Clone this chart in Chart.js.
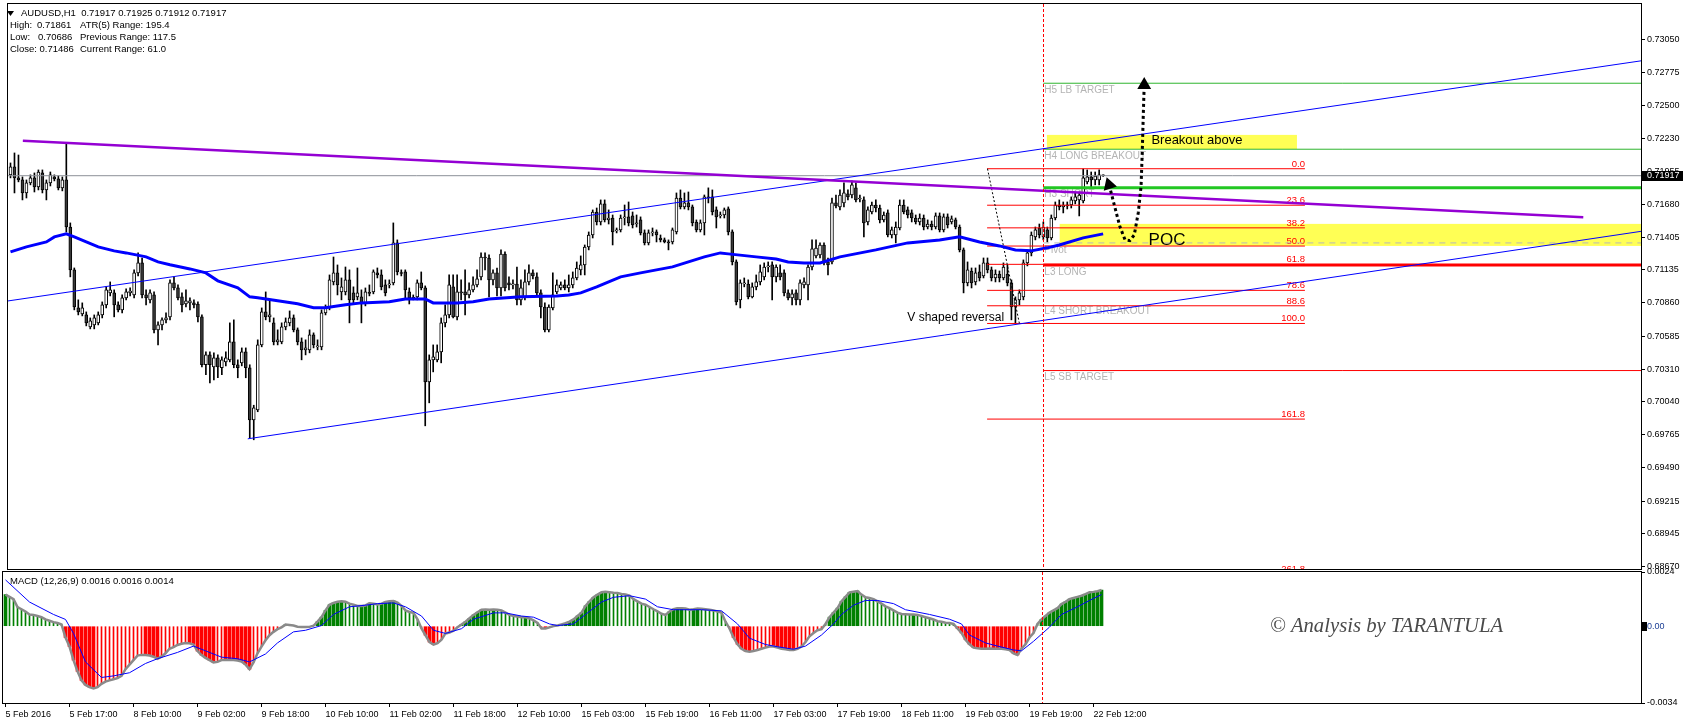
<!DOCTYPE html>
<html>
<head>
<meta charset="utf-8">
<script src="https://cdn.jsdelivr.net/npm/chart.js@4.4.1/dist/chart.umd.min.js"></script>
<style>
  html, body { margin: 0; padding: 0; background: #fff; }
  #wrap { position: relative; width: 1683px; height: 725px; overflow: hidden; background: #fff; }
  #priceCanvas { position: absolute; left: 0; top: -10px; }
  #macdCanvas { position: absolute; left: 0; top: 560px; }
</style>
</head>
<body>
<div id="wrap">
  <canvas id="priceCanvas" width="1683" height="590"></canvas>
  <canvas id="macdCanvas" width="1683" height="165"></canvas>
</div>
<script>
// AUDUSD H1 with fib levels, pivot levels and a MACD window

// time axis (one tick every 16 bars)
const timeTickBars = [0, 16, 32, 48, 64, 80, 96, 112, 128, 144, 160, 176, 192, 208, 224, 240, 256, 272];
const timeTickLabels = ['5 Feb 2016', '5 Feb 17:00', '8 Feb 10:00', '9 Feb 02:00', '9 Feb 18:00', '10 Feb 10:00',
  '11 Feb 02:00', '11 Feb 18:00', '12 Feb 10:00', '15 Feb 03:00', '15 Feb 19:00', '16 Feb 11:00',
  '17 Feb 03:00', '17 Feb 19:00', '18 Feb 11:00', '19 Feb 03:00', '19 Feb 19:00', '22 Feb 12:00'];

const priceTicks = [0.73050, 0.72775, 0.72500, 0.72230, 0.71955, 0.71680, 0.71405, 0.71135, 0.70860,
  0.70585, 0.70310, 0.70040, 0.69765, 0.69490, 0.69215, 0.68945, 0.68670];
const macdTicks = [-0.0034, 0, 0.0024];
const macdTickLabels = ['-0.0034', '0.00', '0.0024'];

// candles
const open = [
0.71924,0.71990,0.71899,0.71882,0.71774,0.71857,0.71899,0.71824,0.71940,0.71799,
0.71857,0.71907,0.71891,0.71816,0.71882,0.71491,0.71135,0.70819,0.70769,0.70761,
0.70662,0.70678,0.70695,0.70761,0.70844,0.70944,0.70944,0.70844,0.70803,0.70902,
0.70944,0.70927,0.71110,0.71193,0.70927,0.70886,0.70927,0.70637,0.70678,0.70720,
0.70745,0.71027,0.70985,0.70911,0.70852,0.70861,0.70861,0.70852,0.70745,0.70347,
0.70429,0.70330,0.70405,0.70322,0.70371,0.70388,0.70537,0.70347,0.70363,0.70454,
0.70322,0.69890,0.69973,0.70512,0.70786,0.70745,0.70695,0.70537,0.70537,0.70662,
0.70695,0.70736,0.70637,0.70537,0.70471,0.70471,0.70595,0.70496,0.70496,0.70778,
0.70819,0.71035,0.71110,0.70952,0.70952,0.71052,0.70944,0.70911,0.70911,0.70861,
0.70944,0.70952,0.71110,0.71093,0.71010,0.71010,0.71027,0.71359,0.71110,0.71118,
0.70952,0.70902,0.70911,0.71027,0.70985,0.70205,0.70388,0.70388,0.70454,0.70695,
0.70761,0.70994,0.70745,0.70952,0.70952,0.70927,0.70969,0.71010,0.71077,0.71242,
0.71234,0.71052,0.71110,0.70985,0.71267,0.71027,0.71010,0.71018,0.70886,0.70911,
0.71035,0.71110,0.71077,0.70944,0.70827,0.70637,0.70819,0.70952,0.70985,0.71010,
0.70985,0.71010,0.71068,0.71135,0.71176,0.71325,0.71425,0.71616,0.71533,0.71683,
0.71550,0.71566,0.71458,0.71467,0.71566,0.71575,0.71583,0.71516,0.71550,0.71442,
0.71359,0.71442,0.71450,0.71400,0.71384,0.71367,0.71367,0.71450,0.71732,0.71658,
0.71691,0.71658,0.71533,0.71467,0.71525,0.71741,0.71741,0.71633,0.71583,0.71591,
0.71641,0.71450,0.71201,0.70886,0.71018,0.71018,0.70911,0.70994,0.71035,0.71077,
0.71159,0.71176,0.71077,0.71110,0.71110,0.70944,0.70902,0.70944,0.70886,0.71010,
0.71010,0.71159,0.71251,0.71259,0.71342,0.71201,0.71201,0.71691,0.71658,0.71691,
0.71766,0.71757,0.71816,0.71724,0.71716,0.71533,0.71616,0.71674,0.71649,0.71550,
0.71608,0.71425,0.71425,0.71483,0.71674,0.71633,0.71608,0.71566,0.71533,0.71566,
0.71491,0.71516,0.71491,0.71583,0.71467,0.71575,0.71533,0.71550,0.71491,0.71301,
0.71027,0.71126,0.71035,0.71118,0.71085,0.71193,0.71135,0.71068,0.71101,0.71068,
0.71101,0.71027,0.70827,0.70886,0.70911,0.71193,0.71276,0.71409,0.71483,0.71409,
0.71467,0.71400,0.71566,0.71674,0.71658,0.71674,0.71674,0.71707,0.71716,0.71707,
0.71866,0.71907,0.71882,0.71882,0.71917];
const high = [
0.72023,0.72106,0.72089,0.71907,0.71882,0.71924,0.71940,0.71965,0.71965,0.71882,
0.71948,0.71924,0.71915,0.71907,0.72189,0.71525,0.71151,0.70886,0.70861,0.70786,
0.70736,0.70761,0.70786,0.70869,0.70994,0.71035,0.70969,0.70869,0.70927,0.70977,
0.70985,0.71135,0.71276,0.71234,0.70969,0.70969,0.70952,0.70703,0.70736,0.70778,
0.71052,0.71077,0.71010,0.70944,0.70969,0.70902,0.70886,0.70869,0.70761,0.70454,
0.70454,0.70446,0.70429,0.70413,0.70454,0.70695,0.70720,0.70388,0.70487,0.70487,
0.70347,0.70011,0.70554,0.70819,0.70952,0.70886,0.70736,0.70637,0.70695,0.70736,
0.70794,0.70761,0.70653,0.70570,0.70554,0.70637,0.70612,0.70554,0.70803,0.70844,
0.71093,0.71242,0.71176,0.71068,0.71159,0.71135,0.70994,0.71151,0.70969,0.70985,
0.71010,0.71135,0.71151,0.71135,0.71052,0.71052,0.71525,0.71384,0.71135,0.71135,
0.70985,0.70927,0.71052,0.71118,0.71002,0.70429,0.70512,0.70512,0.70736,0.70844,
0.71093,0.71093,0.71093,0.71052,0.71135,0.71027,0.71077,0.71135,0.71276,0.71276,
0.71259,0.71135,0.71151,0.71301,0.71284,0.71077,0.71052,0.71159,0.71052,0.71135,
0.71176,0.71135,0.71110,0.70969,0.70861,0.70844,0.71110,0.71052,0.71035,0.71052,
0.71093,0.71118,0.71201,0.71251,0.71342,0.71450,0.71633,0.71649,0.71716,0.71716,
0.71633,0.71591,0.71483,0.71591,0.71674,0.71699,0.71616,0.71591,0.71575,0.71467,
0.71467,0.71483,0.71467,0.71425,0.71400,0.71384,0.71483,0.71774,0.71799,0.71774,
0.71782,0.71674,0.71550,0.71550,0.71757,0.71816,0.71799,0.71658,0.71616,0.71649,
0.71658,0.71467,0.71218,0.71052,0.71068,0.71052,0.71027,0.71093,0.71176,0.71193,
0.71201,0.71201,0.71176,0.71176,0.71135,0.70969,0.70969,0.70969,0.71052,0.71068,
0.71176,0.71384,0.71384,0.71359,0.71359,0.71234,0.71732,0.71757,0.71799,0.71857,
0.71799,0.71874,0.71857,0.71757,0.71741,0.71658,0.71699,0.71716,0.71674,0.71616,
0.71633,0.71491,0.71533,0.71716,0.71716,0.71658,0.71633,0.71591,0.71600,0.71591,
0.71550,0.71541,0.71608,0.71608,0.71600,0.71600,0.71583,0.71566,0.71508,0.71317,
0.71201,0.71151,0.71151,0.71176,0.71234,0.71234,0.71159,0.71135,0.71126,0.71193,
0.71176,0.71052,0.70911,0.70969,0.71218,0.71301,0.71450,0.71491,0.71516,0.71533,
0.71491,0.71591,0.71699,0.71716,0.71699,0.71699,0.71741,0.71774,0.71782,0.71973,
0.71965,0.71948,0.71948,0.71965,0.71925];
const low = [
0.71899,0.71774,0.71866,0.71716,0.71732,0.71841,0.71782,0.71799,0.71774,0.71716,
0.71832,0.71874,0.71799,0.71791,0.71450,0.71077,0.70803,0.70761,0.70753,0.70670,
0.70645,0.70645,0.70678,0.70736,0.70819,0.70919,0.70745,0.70786,0.70778,0.70886,
0.70919,0.70902,0.71085,0.70902,0.70844,0.70861,0.70612,0.70512,0.70637,0.70695,
0.70720,0.70969,0.70886,0.70786,0.70827,0.70803,0.70819,0.70703,0.70330,0.70264,
0.70197,0.70222,0.70239,0.70264,0.70338,0.70371,0.70322,0.70239,0.70338,0.70239,
0.69741,0.69724,0.69957,0.70496,0.70720,0.70703,0.70512,0.70512,0.70521,0.70637,
0.70670,0.70620,0.70512,0.70388,0.70429,0.70446,0.70487,0.70471,0.70471,0.70761,
0.70803,0.71010,0.70927,0.70886,0.70927,0.70695,0.70861,0.70886,0.70695,0.70836,
0.70919,0.70936,0.71068,0.70969,0.70919,0.70985,0.71010,0.71093,0.71085,0.70902,
0.70852,0.70886,0.70886,0.70969,0.69840,0.70031,0.70288,0.70371,0.70363,0.70662,
0.70736,0.70736,0.70720,0.70886,0.70761,0.70902,0.70952,0.70994,0.71052,0.71135,
0.70911,0.71010,0.70919,0.70919,0.70960,0.70969,0.70977,0.70844,0.70844,0.70886,
0.71010,0.71060,0.70919,0.70736,0.70620,0.70620,0.70803,0.70936,0.70969,0.70969,
0.70952,0.70985,0.71052,0.71093,0.71093,0.71301,0.71400,0.71508,0.71508,0.71533,
0.71516,0.71342,0.71442,0.71450,0.71508,0.71500,0.71483,0.71491,0.71425,0.71342,
0.71342,0.71417,0.71367,0.71367,0.71359,0.71301,0.71350,0.71433,0.71641,0.71641,
0.71633,0.71500,0.71450,0.71450,0.71425,0.71691,0.71591,0.71483,0.71566,0.71566,
0.71425,0.71176,0.70844,0.70819,0.70994,0.70894,0.70902,0.70969,0.71010,0.71052,
0.71118,0.70886,0.71035,0.71052,0.70919,0.70886,0.70844,0.70844,0.70844,0.70985,
0.70886,0.71135,0.71234,0.71234,0.71176,0.71093,0.71184,0.71649,0.71633,0.71658,
0.71716,0.71732,0.71699,0.71699,0.71409,0.71508,0.71600,0.71616,0.71525,0.71533,
0.71409,0.71400,0.71359,0.71467,0.71600,0.71566,0.71533,0.71516,0.71508,0.71467,
0.71475,0.71467,0.71475,0.71450,0.71450,0.71483,0.71516,0.71475,0.71284,0.70944,
0.71002,0.70985,0.71010,0.71043,0.71068,0.71110,0.71043,0.71035,0.71035,0.71052,
0.71002,0.70720,0.70695,0.70844,0.70886,0.71168,0.71251,0.71384,0.71400,0.71384,
0.71367,0.71384,0.71550,0.71633,0.71608,0.71641,0.71649,0.71683,0.71583,0.71691,
0.71849,0.71824,0.71841,0.71841,0.71912];
const close = [
0.71990,0.71899,0.71882,0.71774,0.71857,0.71899,0.71824,0.71948,0.71799,0.71857,
0.71924,0.71891,0.71816,0.71882,0.71491,0.71135,0.70827,0.70786,0.70819,0.70695,
0.70711,0.70736,0.70761,0.70844,0.70969,0.70969,0.70844,0.70803,0.70902,0.70952,
0.70960,0.71110,0.71193,0.70927,0.70902,0.70944,0.70637,0.70678,0.70720,0.70736,
0.71027,0.70985,0.70902,0.70844,0.70877,0.70877,0.70844,0.70745,0.70347,0.70429,
0.70347,0.70405,0.70330,0.70388,0.70405,0.70537,0.70347,0.70322,0.70454,0.70322,
0.69890,0.69990,0.70512,0.70786,0.70745,0.70761,0.70537,0.70554,0.70662,0.70703,
0.70736,0.70637,0.70537,0.70471,0.70487,0.70595,0.70512,0.70504,0.70778,0.70819,
0.71052,0.71110,0.71010,0.70994,0.71052,0.70886,0.70886,0.70944,0.70861,0.70952,
0.70940,0.71118,0.71093,0.70994,0.70944,0.71018,0.71359,0.71118,0.71105,0.70969,
0.70902,0.70898,0.71027,0.70985,0.70205,0.70388,0.70413,0.70454,0.70695,0.70761,
0.71010,0.70745,0.70952,0.70944,0.70927,0.70969,0.71010,0.71060,0.71242,0.71234,
0.71052,0.71110,0.70985,0.71267,0.70985,0.71010,0.71018,0.70886,0.70985,0.71035,
0.71110,0.71085,0.70944,0.70827,0.70637,0.70827,0.70927,0.71010,0.71010,0.70985,
0.71010,0.71068,0.71151,0.71176,0.71325,0.71425,0.71616,0.71533,0.71683,0.71550,
0.71566,0.71450,0.71467,0.71566,0.71575,0.71525,0.71508,0.71525,0.71442,0.71359,
0.71442,0.71450,0.71425,0.71384,0.71367,0.71359,0.71467,0.71732,0.71658,0.71691,
0.71658,0.71525,0.71467,0.71525,0.71741,0.71732,0.71616,0.71575,0.71591,0.71633,
0.71450,0.71201,0.70869,0.71027,0.71027,0.70911,0.70994,0.71035,0.71118,0.71159,
0.71168,0.71077,0.71159,0.71077,0.70944,0.70902,0.70936,0.70886,0.71027,0.71035,
0.71159,0.71309,0.71317,0.71342,0.71193,0.71176,0.71691,0.71666,0.71757,0.71774,
0.71741,0.71841,0.71716,0.71732,0.71525,0.71633,0.71674,0.71649,0.71550,0.71591,
0.71425,0.71467,0.71491,0.71674,0.71616,0.71591,0.71566,0.71533,0.71566,0.71491,
0.71516,0.71491,0.71583,0.71467,0.71575,0.71508,0.71558,0.71491,0.71301,0.71027,
0.71135,0.71027,0.71110,0.71068,0.71193,0.71135,0.71068,0.71101,0.71068,0.71159,
0.71027,0.70827,0.70886,0.70944,0.71193,0.71276,0.71425,0.71467,0.71425,0.71491,
0.71400,0.71566,0.71674,0.71658,0.71674,0.71666,0.71716,0.71741,0.71757,0.71899,
0.71907,0.71882,0.71915,0.71924,0.71917];

// moving average, read at sample bars
const maBars = [0, 4, 9, 11, 14, 16, 19, 22, 26, 29, 34, 37, 40, 45, 49, 52, 57, 60, 62, 67, 72, 76, 79, 84,
  88, 95, 99, 104, 106, 112, 116, 120, 128, 137, 140, 143, 147, 150, 153, 158, 162, 166, 170, 174, 178, 180,
  187, 192, 195, 199, 203, 208, 217, 225, 233, 238, 243, 248, 252, 256, 260, 263, 269, 274];
const maValues = [0.71284, 0.71326, 0.71367, 0.71409, 0.71434, 0.71409, 0.71367, 0.71326, 0.71293, 0.71276,
  0.71243, 0.71201, 0.71177, 0.71143, 0.71110, 0.71044, 0.70986, 0.70911, 0.70903, 0.70878, 0.70853, 0.70820,
  0.70820, 0.70845, 0.70861, 0.70870, 0.70894, 0.70894, 0.70861, 0.70861, 0.70870, 0.70894, 0.70911, 0.70919,
  0.70927, 0.70944, 0.70994, 0.71035, 0.71077, 0.71110, 0.71135, 0.71160, 0.71201, 0.71243, 0.71276, 0.71268,
  0.71243, 0.71226, 0.71201, 0.71193, 0.71193, 0.71243, 0.71301, 0.71359, 0.71384, 0.71409, 0.71367, 0.71334,
  0.71301, 0.71293, 0.71318, 0.71342, 0.71401, 0.71434];

// MACD (12,26,9) main value per bar
const macdMain = [
0.0014,0.0013,0.0012,0.00085,0.00075,0.00065,0.00052,0.0005,0.00045,0.0004,
0.0003,0.00024,0.00018,0.00014,0.00008,-0.0005,-0.0009,-0.0015,-0.002,-0.0024,
-0.0026,-0.0027,-0.00276,-0.0027,-0.00255,-0.00245,-0.0024,-0.00235,-0.0023,-0.0022,
-0.0019,-0.0017,-0.0015,-0.0013,-0.00127,-0.00128,-0.0013,-0.00135,-0.00144,-0.00135,
-0.0012,-0.001,-0.00093,-0.00083,-0.00078,-0.00074,-0.00076,-0.00081,-0.0011,-0.00128,
-0.0014,-0.0015,-0.0016,-0.00158,-0.0015,-0.0015,-0.0015,-0.0015,-0.00152,-0.00156,
-0.0017,-0.0019,-0.0016,-0.0012,-0.0009,-0.00062,-0.0004,-0.00025,-0.00013,-0.00005,
0.00007,0.00005,0.00003,-0.00002,-0.00004,-0.00004,-0.00003,0.00002,0.0002,0.0004,
0.0007,0.00095,0.00103,0.00108,0.0011,0.00108,0.001,0.00095,0.0009,0.0009,
0.00092,0.00102,0.001,0.00096,0.001,0.00107,0.0011,0.00112,0.00105,0.0009,
0.0007,0.00063,0.00059,0.0003,-0.0001,-0.0004,-0.0007,-0.00081,-0.00075,-0.0006,
-0.00032,-0.00028,-0.0002,-0.00005,0.00008,0.0002,0.00035,0.0005,0.00062,0.00073,
0.00074,0.00073,0.00074,0.00073,0.0007,0.0006,0.0005,0.00045,0.00043,0.0004,
0.0004,0.00035,0.00026,0.00015,-0.0001,-0.0001,-0.00005,0.00001,0.00003,0.00008,
0.00013,0.0002,0.0003,0.00045,0.0006,0.0009,0.0011,0.00128,0.0014,0.0015,
0.00152,0.0015,0.00148,0.00147,0.00143,0.0014,0.00135,0.0012,0.0011,0.001,
0.00095,0.00085,0.00075,0.00066,0.00055,0.0005,0.00065,0.00075,0.0008,0.0008,
0.00078,0.00073,0.00075,0.00078,0.00077,0.00075,0.00073,0.0007,0.00065,0.0006,
0.0002,-0.0001,-0.0005,-0.0008,-0.001,-0.0011,-0.00113,-0.0011,-0.00105,-0.001,
-0.00095,-0.0009,-0.0009,-0.00095,-0.001,-0.00102,-0.00105,-0.00105,-0.001,-0.0009,
-0.0007,-0.00045,-0.0003,-0.00018,-0.00013,0.0001,0.0004,0.0006,0.0008,0.0011,
0.0013,0.0015,0.00153,0.00156,0.0014,0.00128,0.00125,0.0012,0.0011,0.001,
0.00088,0.0008,0.0007,0.0006,0.00054,0.00053,0.00052,0.00052,0.0005,0.00045,
0.0004,0.00035,0.0003,0.00022,0.0002,0.00015,0.00014,0.0001,-0.0001,-0.0003,
-0.0006,-0.0008,-0.00095,-0.00098,-0.001,-0.001,-0.00099,-0.001,-0.001,-0.001,
-0.00102,-0.00105,-0.0012,-0.00127,-0.001,-0.0008,-0.0005,-0.0003,0.0001,0.0003,
0.00045,0.0006,0.0007,0.0008,0.00098,0.00108,0.0012,0.00125,0.0013,0.00135,
0.00142,0.0015,0.00152,0.00155,0.0016];

// MACD signal line, read at sample bars
const signalBars = [0, 6, 12, 15, 17, 20, 24, 27, 31, 35, 38, 43, 47, 50, 54, 58, 61, 65, 68, 72, 75, 79, 82,
  86, 90, 93, 97, 100, 104, 107, 110, 114, 117, 122, 125, 129, 132, 136, 138, 142, 145, 149, 152, 156, 160, 163,
  167, 174, 179, 183, 186, 190, 193, 197, 200, 204, 207, 209, 212, 215, 218, 222, 225, 231, 236, 239, 241, 245,
  248, 252, 254, 257, 261, 264, 268, 271, 274];
const signalValues = [0.00205, 0.00107, 0.00052, 0.0003, -0.00032, -0.00158, -0.00227, -0.0022, -0.00206,
  -0.00165, -0.00144, -0.00116, -0.00088, -0.00109, -0.00137, -0.00144, -0.00158, -0.00123, -0.00074, -0.00025,
  -0.00018, 0.00003, 0.00052, 0.00086, 0.00093, 0.001, 0.00103, 0.00086, 0.00045, -0.00018, -0.00032, -0.00011,
  0.00031, 0.00059, 0.00059, 0.00045, 0.0004, 0.0001, 0.00003, 0.0001, 0.00052, 0.00107, 0.00128, 0.00135,
  0.0012, 0.00086, 0.00073, 0.00073, 0.00068, 0.0001, -0.00053, -0.00081, -0.00091, -0.00102, -0.00088,
  -0.00039, 0.0001, 0.00052, 0.00093, 0.00114, 0.00114, 0.001, 0.00073, 0.00052, 0.00031, 0.0001, -0.00039,
  -0.00074, -0.00088, -0.00105, -0.00109, -0.00067, -0.00004, 0.00052, 0.00086, 0.00114, 0.0014];

// drawn objects (bar index, price)
const lastPrice = 0.71917;
const sessionBar = 259;
const fibLabels = ['0.0', '23.6', '38.2', '50.0', '61.8', '78.6', '88.6', '100.0', '161.8', '261.8'];
const fibPrices = [0.71975, 0.71672, 0.71484, 0.71333, 0.71181, 0.70965, 0.70837, 0.70690, 0.69896, 0.68611];
const fibFrom = 244.9, fibTo = 324.6;
const fibAnchorBars = [245, 253];
const fibAnchorPrices = [0.71975, 0.70690];
const pivotNames = ['H5 LB TARGET', 'H4 LONG BREAKOUT', 'H3 SHORT', 'Pivot', 'L3 LONG', 'L4 SHORT BREAKOUT', 'L5 SB TARGET'];
const pivotPrices = [0.72685, 0.72137, 0.71818, 0.71359, 0.71176, 0.70849, 0.70299];
const purpleBars = [3.1, 394.4];
const purplePrices = [0.72208, 0.71572];
const upperBars = [-0.625, 408.875];
const upperPrices = [0.70877, 0.72871];
const lowerBars = [59.5, 408.875];
const lowerPrices = [0.69732, 0.71455];
const arrowBars = [275.5, 276.9, 278.2, 279.5, 280.7, 281.8, 282.8, 283.5, 283.8, 284.1, 284.3];
const arrowPrices = [0.71841, 0.71660, 0.71494, 0.71384, 0.71378, 0.71425, 0.71608, 0.71826, 0.72106, 0.72463, 0.72671];
const breakoutBox = { x0: 259.9, x1: 322.6, y0: 0.72139, y1: 0.72256 };
const pocBox = { x0: 263.1, x1: 408.875, y0: 0.71334, y1: 0.71517 };
const notes = [
  { text: 'Breakout above', x: 286.1, y: 0.72206, size: 13 },
  { text: 'POC', x: 285.4, y: 0.71384, size: 17 },
  { text: 'V shaped reversal', x: 224.9, y: 0.70737, size: 12 }
];

// axis bounds
const xMin = -0.625, xMax = 408.875;
const priceMin = 0.68651, priceMax = 0.73343;
const macdMin = -0.0034, macdMax = 0.0024;

[open, high, low, close, macdMain].forEach(a => {
  if (a.length !== 275) throw new Error('bar series length ' + a.length);
});

// styles
const SANS = '"Liberation Sans", Arial, sans-serif';
const pivotColors = ['#2fb52f', '#2fb52f', '#22c722', '#b8b8b8', '#ff0000', 'rgba(0,0,0,0)', '#ff0000'];
const pivotWidths = [1, 1, 3, 1, 3, 1, 1];
const axisFont = { family: SANS, size: 9 };

const pts = (xs, ys) => xs.map((x, k) => ({ x: x, y: ys[k] }));
const lineDs = (data, color, width, order, extra) => Object.assign({
  type: 'line', data: data, borderColor: color, borderWidth: width,
  pointRadius: 0, tension: 0, fill: false, order: order
}, extra || {});

const bars = open.map((o, i) => i);
const isBull = i => close[i] >= open[i];

const priceDatasets = [
  lineDs(pts(arrowBars, arrowPrices), '#000', 3, 0, {
    borderDash: [3, 3],
    pointStyle: 'triangle',
    pointRadius: c => (c.dataIndex === 0 || c.dataIndex === arrowBars.length - 1) ? 5 : 0,
    pointRotation: c => c.dataIndex === 0 ? -18 : 0,
    pointBackgroundColor: '#000', pointBorderColor: '#000'
  }),
  lineDs(pts(maBars, maValues), '#0000ff', 3, 1),
  lineDs(pts(purpleBars, purplePrices), '#9400d3', 2.5, 2),
  lineDs(pts(upperBars, upperPrices), '#0000ff', 1, 3),
  lineDs(pts(lowerBars, lowerPrices), '#0000ff', 1, 3),
  lineDs(pts([xMin, xMax], [lastPrice, lastPrice]), '#8c9098', 1, 4),
  lineDs(pts(fibAnchorBars, fibAnchorPrices), '#000', 1, 4, { borderDash: [2, 2] })
];
fibPrices.forEach(p => priceDatasets.push(lineDs(pts([fibFrom, fibTo], [p, p]), '#ff0000', 1, 4)));
pivotPrices.forEach((p, k) => priceDatasets.push(lineDs(pts([sessionBar, xMax], [p, p]), pivotColors[k], pivotWidths[k], 4,
  pivotNames[k] === 'Pivot' ? { borderDash: [6, 5] } : {})));
priceDatasets.push({
  type: 'bar', data: bars.map(i => ({ x: i, y: [open[i], close[i]] })), order: 5,
  grouped: false, barThickness: 3, minBarLength: 1, borderSkipped: false, borderWidth: 1,
  borderColor: '#000', backgroundColor: c => isBull(c.dataIndex) ? '#ffffff' : '#3a3a3a'
});
priceDatasets.push({
  type: 'bar', data: bars.map(i => ({ x: i, y: [low[i], high[i]] })), order: 6,
  grouped: false, barThickness: 1, borderWidth: 0, backgroundColor: '#000'
});

function drawFrame(chart) {
  const { ctx, chartArea: a } = chart;
  ctx.save();
  ctx.strokeStyle = '#000';
  ctx.lineWidth = 1;
  ctx.strokeRect(a.left - 0.5, a.top - 0.5, a.right - a.left + 1, a.bottom - a.top + 1);
  ctx.restore();
}

function drawSessionLine(chart) {
  const { ctx, chartArea: a, scales } = chart;
  const x = Math.round(scales.x.getPixelForValue(sessionBar)) + 0.5;
  ctx.save();
  ctx.strokeStyle = '#ff0000';
  ctx.lineWidth = 1;
  ctx.setLineDash([3, 2]);
  ctx.beginPath();
  ctx.moveTo(x, a.top);
  ctx.lineTo(x, a.bottom);
  ctx.stroke();
  ctx.restore();
}

const priceDecor = {
  id: 'priceDecor',
  beforeDatasetsDraw(chart) {
    const { ctx, chartArea: a, scales: { x, y } } = chart;
    ctx.save();
    ctx.beginPath();
    ctx.rect(a.left, a.top, a.right - a.left, a.bottom - a.top);
    ctx.clip();
    ctx.fillStyle = '#ffff55';
    [breakoutBox, pocBox].forEach(b => {
      const px0 = x.getPixelForValue(b.x0), px1 = x.getPixelForValue(b.x1);
      const py0 = y.getPixelForValue(b.y1), py1 = y.getPixelForValue(b.y0);
      ctx.fillRect(px0, py0, px1 - px0, py1 - py0);
    });
    // pivot names under their lines
    ctx.fillStyle = '#b4b4b4';
    ctx.font = '10px ' + SANS;
    ctx.textAlign = 'left';
    ctx.textBaseline = 'top';
    pivotPrices.forEach((p, k) => ctx.fillText(pivotNames[k], x.getPixelForValue(sessionBar) + 1, y.getPixelForValue(p) + 2));
    // fib level numbers
    ctx.fillStyle = '#ff0000';
    ctx.font = '9.5px ' + SANS;
    ctx.textAlign = 'right';
    ctx.textBaseline = 'alphabetic';
    fibPrices.forEach((p, k) => ctx.fillText(fibLabels[k], x.getPixelForValue(fibTo), y.getPixelForValue(p) - 2));
    // notes
    ctx.fillStyle = '#000';
    ctx.textAlign = 'left';
    ctx.textBaseline = 'middle';
    notes.forEach(n => {
      ctx.font = n.size + 'px ' + SANS;
      ctx.fillText(n.text, x.getPixelForValue(n.x), y.getPixelForValue(n.y));
    });
    ctx.restore();
  },
  afterDatasetsDraw(chart) {
    drawSessionLine(chart);
  },
  afterDraw(chart) {
    const { ctx, scales: { y } } = chart;
    drawFrame(chart);
    const off = 10; // canvas sits 10px above the page top
    ctx.save();
    ctx.fillStyle = '#000';
    ctx.font = '9.5px ' + SANS;
    ctx.textBaseline = 'middle';
    ctx.textAlign = 'left';
    ctx.beginPath();
    ctx.moveTo(7, 11 + off); ctx.lineTo(14, 11 + off); ctx.lineTo(10.5, 16 + off); ctx.closePath();
    ctx.fill();
    ctx.fillText('AUDUSD,H1  0.71917 0.71925 0.71912 0.71917', 21, 13 + off);
    ctx.fillText('High:', 10, 25 + off); ctx.fillText('0.71861', 37, 25 + off); ctx.fillText('ATR(5) Range: 195.4', 80, 25 + off);
    ctx.fillText('Low:', 10, 37 + off); ctx.fillText('0.70686', 38, 37 + off); ctx.fillText('Previous Range: 117.5', 80, 37 + off);
    ctx.fillText('Close: 0.71486', 10, 49 + off); ctx.fillText('Current Range: 61.0', 80, 49 + off);
    // last price marker on the price axis
    const py = Math.round(y.getPixelForValue(lastPrice));
    ctx.fillRect(y.left + 1, py - 5, y.right - y.left - 1, 10);
    ctx.fillStyle = '#fff';
    ctx.font = '9px ' + SANS;
    ctx.fillText(lastPrice.toFixed(5), y.left + 6, py);
    ctx.restore();
  }
};

new Chart(document.getElementById('priceCanvas'), {
  type: 'bar',
  data: { datasets: priceDatasets },
  options: {
    responsive: false, animation: false, devicePixelRatio: 1, events: [],
    layout: { padding: { left: 3, top: 14, bottom: 11, right: 0 } },
    plugins: { legend: { display: false }, tooltip: { enabled: false } },
    scales: {
      x: { type: 'linear', min: xMin, max: xMax, offset: false, display: false, grid: { offset: false } },
      y: {
        type: 'linear', position: 'right', min: priceMin, max: priceMax,
        afterFit: s => { s.width = 42; },
        afterBuildTicks: s => { s.ticks = priceTicks.map(v => ({ value: v })); },
        ticks: { callback: v => v.toFixed(5), color: '#000', font: axisFont, padding: 2, autoSkip: false },
        grid: { drawOnChartArea: false, drawTicks: true, tickLength: 4, color: '#000' },
        border: { display: true, color: '#000' }
      }
    }
  },
  plugins: [priceDecor]
});

// MACD window
const grow = i => i === 0 || Math.abs(macdMain[i]) >= Math.abs(macdMain[i - 1]);
const histColor = c => (c.raw && c.raw.y >= 0) ? '#008000' : '#ff0000';
const macdDatasets = [
  lineDs(pts(signalBars, signalValues), '#0000ff', 1, 0),
  lineDs(bars.map(i => ({ x: i, y: macdMain[i] })), '#8a8a8a', 2.5, 1),
  { type: 'bar', order: 2, grouped: false, barThickness: 3, borderWidth: 0, backgroundColor: histColor,
    data: bars.map(i => ({ x: i, y: grow(i) ? macdMain[i] : null })) },
  { type: 'bar', order: 3, grouped: false, barThickness: 1, borderWidth: 0, backgroundColor: histColor,
    data: bars.map(i => ({ x: i, y: grow(i) ? null : macdMain[i] })) }
];

const macdDecor = {
  id: 'macdDecor',
  afterDatasetsDraw(chart) {
    drawSessionLine(chart);
  },
  afterDraw(chart) {
    const { ctx, chartArea: a, scales: { y } } = chart;
    drawFrame(chart);
    ctx.save();
    // small black marker in front of the zero label, as the terminal shows it
    const zy = Math.round(y.getPixelForValue(0));
    ctx.fillStyle = '#000';
    ctx.fillRect(y.left + 1, zy - 4, 5, 9);
    ctx.font = '9.5px ' + SANS;
    ctx.textAlign = 'left';
    ctx.textBaseline = 'middle';
    ctx.fillText('MACD (12,26,9) 0.0016 0.0016 0.0014', a.left + 7, a.top + 9);
    // watermark
    const mark = '\u00a9 Analysis by TARANTULA';
    ctx.font = 'italic 20px "Liberation Serif", serif';
    const w = ctx.measureText(mark).width;
    ctx.font = 'italic ' + (20 * 233 / w).toFixed(1) + 'px "Liberation Serif", serif';
    ctx.fillStyle = '#4a4a4a';
    ctx.fillText(mark, 1270, 67);
    ctx.restore();
  }
};

new Chart(document.getElementById('macdCanvas'), {
  type: 'bar',
  data: { datasets: macdDatasets },
  options: {
    responsive: false, animation: false, devicePixelRatio: 1, events: [],
    layout: { padding: { left: 3, top: 12, bottom: 0, right: 0 } },
    plugins: { legend: { display: false }, tooltip: { enabled: false } },
    scales: {
      x: {
        type: 'linear', min: xMin, max: xMax, offset: false, position: 'bottom',
        afterFit: s => { s.height = 22; },
        afterBuildTicks: s => { s.ticks = timeTickBars.map(v => ({ value: v })); },
        ticks: { callback: (v, k) => timeTickLabels[k], align: 'start', maxRotation: 0, autoSkip: false,
          color: '#000', font: axisFont, padding: 2 },
        grid: { drawOnChartArea: false, drawTicks: true, tickLength: 4, color: '#000', offset: false },
        border: { display: true, color: '#000' }
      },
      y: {
        type: 'linear', position: 'right', min: macdMin, max: macdMax,
        afterFit: s => { s.width = 42; },
        afterBuildTicks: s => { s.ticks = macdTicks.map(v => ({ value: v })); },
        ticks: { callback: v => macdTickLabels[macdTicks.indexOf(v)], color: c => c.tick.value === 0 ? '#1c3f95' : '#000',
          font: axisFont, padding: 2, autoSkip: false },
        grid: { drawOnChartArea: false, drawTicks: true, tickLength: 4, color: '#000' },
        border: { display: true, color: '#000' }
      }
    }
  },
  plugins: [macdDecor]
});
</script>
</body>
</html>
